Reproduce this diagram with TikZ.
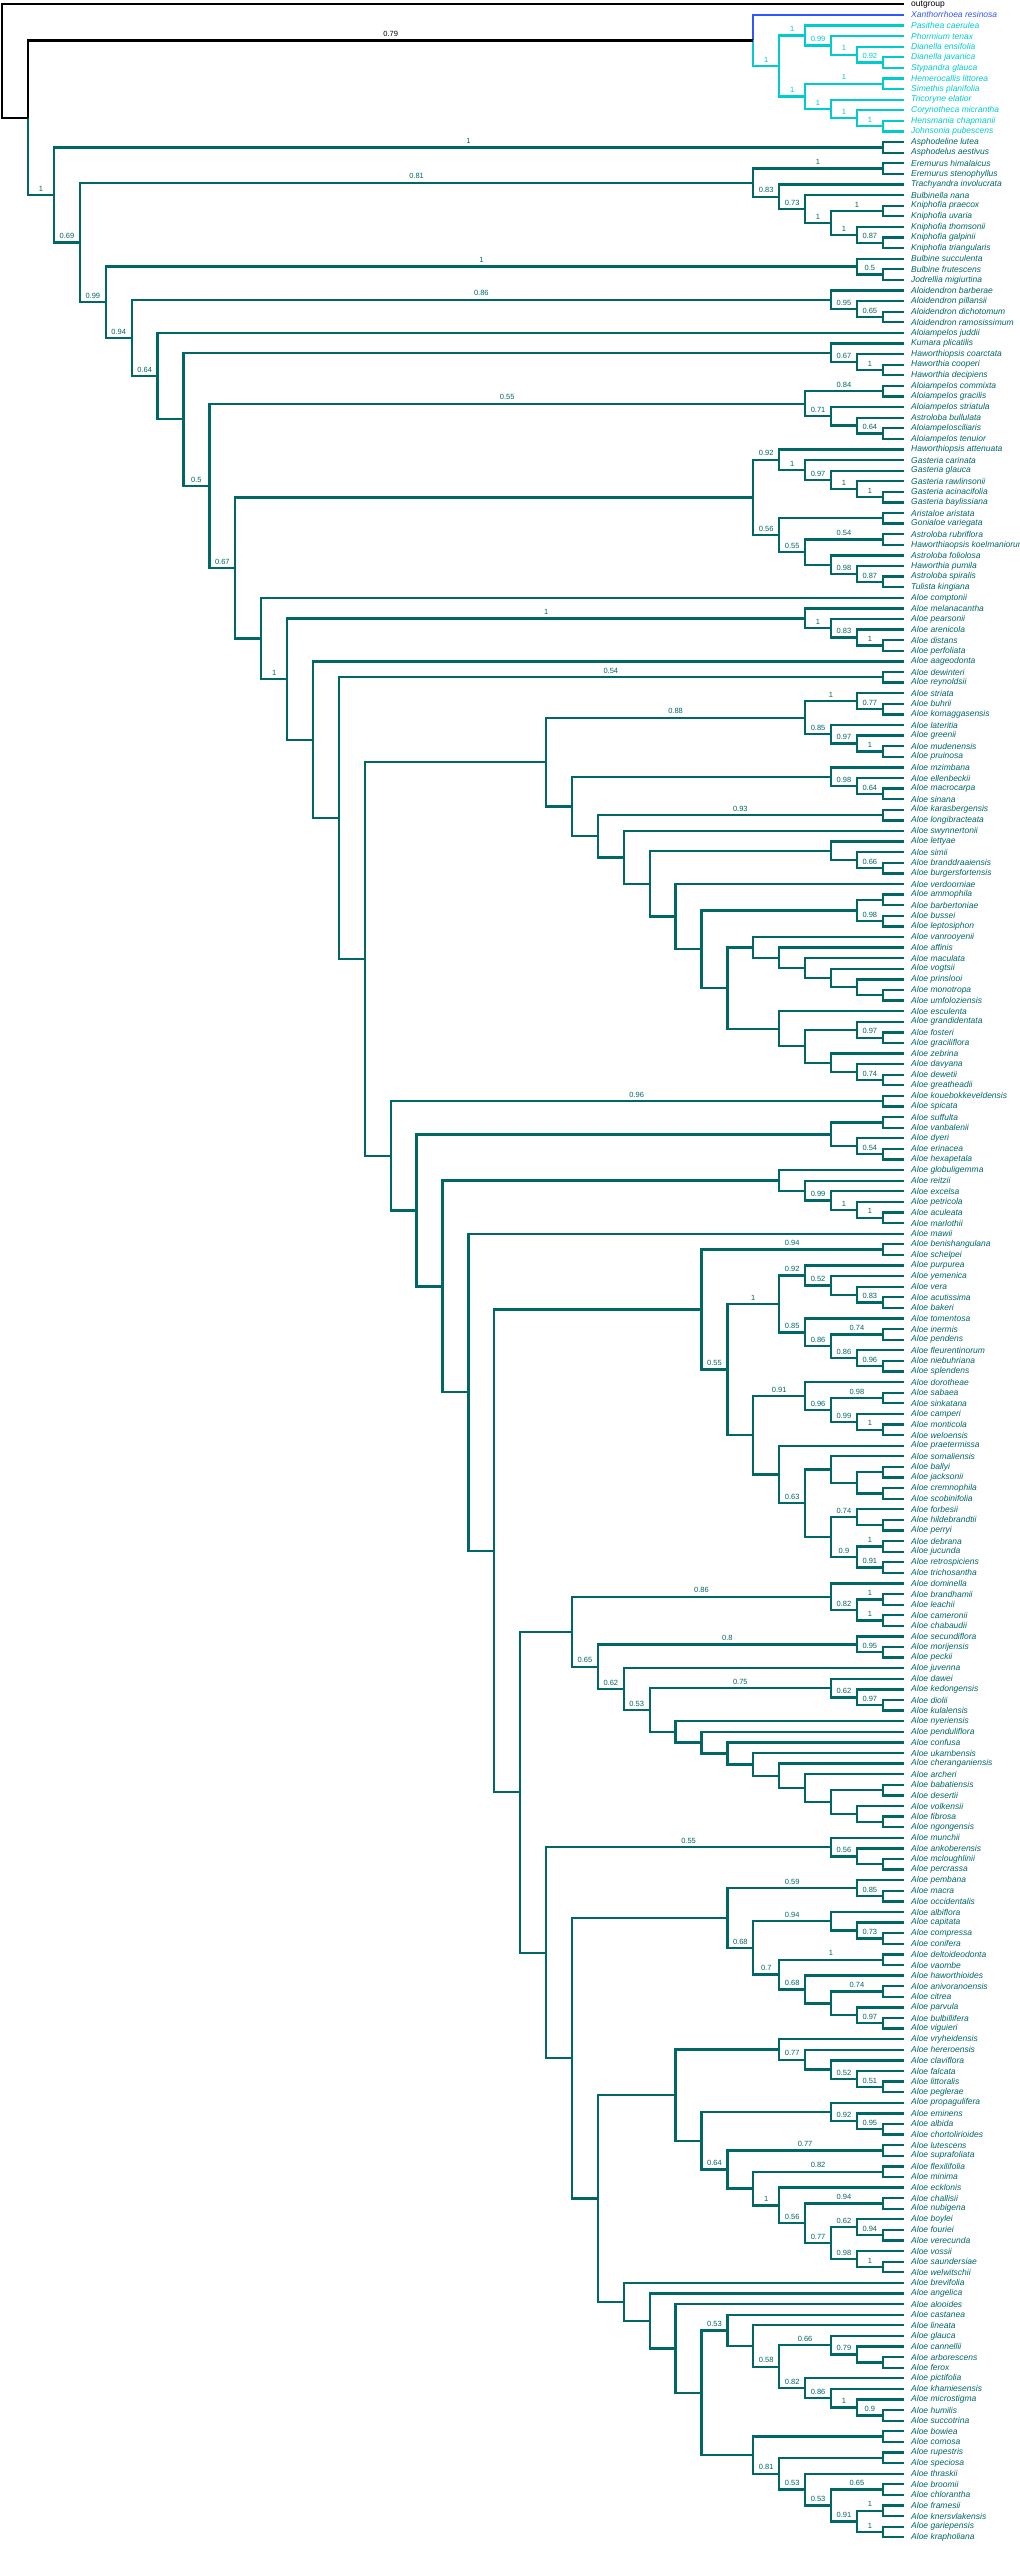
\documentclass[tikz,border=0pt]{standalone}
\usepackage{fontspec}
\setmainfont{Liberation Sans}
\definecolor{tealc}{RGB}{0,102,102}
\definecolor{cyanc}{RGB}{0,204,204}
\definecolor{bluec}{RGB}{51,85,255}
\newcount\tipcount
\newcommand\defv[2]{\expandafter\xdef\csname #1\endcsname{#2}}
\newcommand\getv[1]{\csname #1\endcsname}
\gdef\tiplist{}
\gdef\nodelist{}
\def\curcol{tealc}
\def\myXA{908.7}
\def\myXS{25.9}
\newcommand\Tip[2]{%
  \pgfmathsetmacro\mytmpy{4.33+10.598*\the\tipcount}%
  \defv{th@#1}{0}\defv{ty@#1}{\mytmpy}\defv{tc@#1}{\curcol}\defv{tl@#1}{}%
  \expandafter\gdef\csname tt@#1\endcsname{#2}%
  \global\advance\tipcount by 1\relax
  \xdef\tiplist{\unexpanded\expandafter{\tiplist}\noexpand\dotip{#1}}}
\newcommand\T[1]{\edef\mytname{t\the\tipcount}\expandafter\Tip\expandafter{\mytname}{#1}}
\newcommand\Node[4]{%
  \pgfmathtruncatemacro\mytmph{1+max(\getv{th@#2},\getv{th@#3})}%
  \pgfmathsetmacro\mytmpy{(\getv{ty@#2}+\getv{ty@#3})/2}%
  \defv{th@#1}{\mytmph}\defv{ty@#1}{\mytmpy}\defv{tc@#1}{\curcol}\defv{tl@#1}{#4}%
  \xdef\nodelist{\unexpanded\expandafter{\nodelist}\noexpand\donode{#1}{#2}{#3}}}
\newcommand\donode[3]{%
  \pgfmathsetmacro\mypx{\myXA-\myXS*\getv{th@#1}}%
  \edef\mypy{\getv{ty@#1}}%
  \doedge{#2}\doedge{#3}}
\newcommand\doedge[1]{%
  \edef\mycy{\getv{ty@#1}}%
  \ifnum\getv{th@#1}=0\relax \def\mycx{904}\else \pgfmathsetmacro\mycx{\myXA-\myXS*\getv{th@#1}}\fi
  \edef\myccol{\getv{tc@#1}}%
  \draw[br,draw=\myccol] (\mypx,\mypy) -- (\mypx,\mycy) -- (\mycx,\mycy);
  \edef\myclab{\getv{tl@#1}}%
  \ifx\myclab\empty\else
    \node[sup,text=\myccol] at ({(\mypx+\mycx)/2},{\mycy-6.4}) {\myclab};
  \fi}
\newcommand\dotip[1]{%
  \edef\myccol{\getv{tc@#1}}%
  \node[tiplab,text=\myccol] at (911,\getv{ty@#1}) {\getv{tt@#1}};}
\begin{document}
\begin{tikzpicture}[x=1pt,y=-1pt,
  br/.style={line width=2.3pt},
  sup/.style={inner sep=0pt,font=\fontsize{7.5}{9}\selectfont},
  tiplab/.style={anchor=west,inner sep=0pt,font=\fontsize{8.5}{10}\selectfont\itshape}]
\useasboundingbox[fill=white] (0,0) rectangle (1020,2557);
% ---------- tips ----------
\def\curcol{black}\T{\upshape outgroup}
\def\curcol{bluec}\T{Xanthorrhoea resinosa}
\def\curcol{cyanc}
\T{Pasithea caerulea}\T{Phormium tenax}\T{Dianella ensifolia}\T{Dianella javanica}
\T{Stypandra glauca}\T{Hemerocallis littorea}\T{Simethis planifolia}\T{Tricoryne elatior}
\T{Corynotheca micrantha}\T{Hensmania chapmanii}\T{Johnsonia pubescens}
\def\curcol{tealc}
\T{Asphodeline lutea}\T{Asphodelus aestivus}\T{Eremurus himalaicus}\T{Eremurus stenophyllus}
\T{Trachyandra involucrata}\T{Bulbinella nana}\T{Kniphofia praecox}\T{Kniphofia uvaria}
\T{Kniphofia thomsonii}\T{Kniphofia galpinii}\T{Kniphofia triangularis}\T{Bulbine succulenta}
\T{Bulbine frutescens}\T{Jodrellia migiurtina}\T{Aloidendron barberae}\T{Aloidendron pillansii}
\T{Aloidendron dichotomum}\T{Aloidendron ramosissimum}\T{Aloiampelos juddii}\T{Kumara plicatilis}
\T{Haworthiopsis coarctata}\T{Haworthia cooperi}\T{Haworthia decipiens}\T{Aloiampelos commixta}
\T{Aloiampelos gracilis}\T{Aloiampelos striatula}\T{Astroloba bullulata}\T{Aloiampelosciliaris}
\T{Aloiampelos tenuior}\T{Haworthiopsis attenuata}\T{Gasteria carinata}\T{Gasteria glauca}
\T{Gasteria rawlinsonii}\T{Gasteria acinacifolia}\T{Gasteria baylissiana}\T{Aristaloe aristata}
\T{Gonialoe variegata}\T{Astroloba rubriflora}\T{Haworthiaopsis koelmaniorum}\T{Astroloba foliolosa}
\T{Haworthia pumila}\T{Astroloba spiralis}\T{Tulista kingiana}\T{Aloe comptonii}
\T{Aloe melanacantha}\T{Aloe pearsonii}\T{Aloe arenicola}\T{Aloe distans}
\T{Aloe perfoliata}\T{Aloe aageodonta}\T{Aloe dewinteri}\T{Aloe reynoldsii}
\T{Aloe striata}\T{Aloe buhrii}\T{Aloe komaggasensis}\T{Aloe lateritia}
\T{Aloe greenii}\T{Aloe mudenensis}\T{Aloe pruinosa}\T{Aloe mzimbana}
\T{Aloe ellenbeckii}\T{Aloe macrocarpa}\T{Aloe sinana}\T{Aloe karasbergensis}
\T{Aloe longibracteata}\T{Aloe swynnertonii}\T{Aloe lettyae}\T{Aloe simii}
\T{Aloe branddraaiensis}\T{Aloe burgersfortensis}\T{Aloe verdoorniae}\T{Aloe ammophila}
\T{Aloe barbertoniae}\T{Aloe bussei}\T{Aloe leptosiphon}\T{Aloe vanrooyenii}
\T{Aloe affinis}\T{Aloe maculata}\T{Aloe vogtsii}\T{Aloe prinslooi}
\T{Aloe monotropa}\T{Aloe umfoloziensis}\T{Aloe esculenta}\T{Aloe grandidentata}
\T{Aloe fosteri}\T{Aloe graciliflora}\T{Aloe zebrina}\T{Aloe davyana}
\T{Aloe dewetii}\T{Aloe greatheadii}\T{Aloe kouebokkeveldensis}\T{Aloe spicata}
\T{Aloe suffulta}\T{Aloe vanbalenii}\T{Aloe dyeri}\T{Aloe erinacea}
\T{Aloe hexapetala}\T{Aloe globuligemma}\T{Aloe reitzii}\T{Aloe excelsa}
\T{Aloe petricola}\T{Aloe aculeata}\T{Aloe marlothii}\T{Aloe mawii}
\T{Aloe benishangulana}\T{Aloe schelpei}\T{Aloe purpurea}\T{Aloe yemenica}
\T{Aloe vera}\T{Aloe acutissima}\T{Aloe bakeri}\T{Aloe tomentosa}
\T{Aloe inermis}\T{Aloe pendens}\T{Aloe fleurentinorum}\T{Aloe niebuhriana}
\T{Aloe splendens}\T{Aloe dorotheae}\T{Aloe sabaea}\T{Aloe sinkatana}
\T{Aloe camperi}\T{Aloe monticola}\T{Aloe weloensis}\T{Aloe praetermissa}
\T{Aloe somaliensis}\T{Aloe ballyi}\T{Aloe jacksonii}\T{Aloe cremnophila}
\T{Aloe scobinifolia}\T{Aloe forbesii}\T{Aloe hildebrandtii}\T{Aloe perryi}
\T{Aloe debrana}\T{Aloe jucunda}\T{Aloe retrospiciens}\T{Aloe trichosantha}
\T{Aloe dominella}\T{Aloe brandhamii}\T{Aloe leachii}\T{Aloe cameronii}
\T{Aloe chabaudii}\T{Aloe secundiflora}\T{Aloe morijensis}\T{Aloe peckii}
\T{Aloe juvenna}\T{Aloe dawei}\T{Aloe kedongensis}\T{Aloe diolii}
\T{Aloe kulalensis}\T{Aloe nyeriensis}\T{Aloe penduliflora}\T{Aloe confusa}
\T{Aloe ukambensis}\T{Aloe cheranganiensis}\T{Aloe archeri}\T{Aloe babatiensis}
\T{Aloe desertii}\T{Aloe volkensii}\T{Aloe fibrosa}\T{Aloe ngongensis}
\T{Aloe munchii}\T{Aloe ankoberensis}\T{Aloe mcloughlinii}\T{Aloe percrassa}
\T{Aloe pembana}\T{Aloe macra}\T{Aloe occidentalis}\T{Aloe albiflora}
\T{Aloe capitata}\T{Aloe compressa}\T{Aloe conifera}\T{Aloe deltoideodonta}
\T{Aloe vaombe}\T{Aloe haworthioides}\T{Aloe anivoranoensis}\T{Aloe citrea}
\T{Aloe parvula}\T{Aloe bulbillifera}\T{Aloe viguieri}\T{Aloe vryheidensis}
\T{Aloe hereroensis}\T{Aloe claviflora}\T{Aloe falcata}\T{Aloe littoralis}
\T{Aloe peglerae}\T{Aloe propagulifera}\T{Aloe eminens}\T{Aloe albida}
\T{Aloe chortolirioides}\T{Aloe lutescens}\T{Aloe suprafoliata}\T{Aloe flexilifolia}
\T{Aloe minima}\T{Aloe ecklonis}\T{Aloe challisii}\T{Aloe nubigena}
\T{Aloe boylei}\T{Aloe fouriei}\T{Aloe verecunda}\T{Aloe vossii}
\T{Aloe saundersiae}\T{Aloe welwitschii}\T{Aloe brevifolia}\T{Aloe angelica}
\T{Aloe alooides}\T{Aloe castanea}\T{Aloe lineata}\T{Aloe glauca}
\T{Aloe cannellii}\T{Aloe arborescens}\T{Aloe ferox}\T{Aloe pictifolia}
\T{Aloe khamiesensis}\T{Aloe microstigma}\T{Aloe humilis}\T{Aloe succotrina}
\T{Aloe bowiea}\T{Aloe comosa}\T{Aloe rupestris}\T{Aloe speciosa}
\T{Aloe thraskii}\T{Aloe broomii}\T{Aloe chlorantha}\T{Aloe framesii}
\T{Aloe knersvlakensis}\T{Aloe gariepensis}\T{Aloe krapholiana}
% ---------- internal nodes ----------
\def\curcol{cyanc}
\Node{x1}{t5}{t6}{0.92}\Node{x2}{t4}{x1}{1}\Node{x3}{t3}{x2}{0.99}\Node{x4}{t2}{x3}{1}
\Node{h1}{t7}{t8}{1}\Node{h2}{t11}{t12}{1}\Node{h3}{t10}{h2}{1}\Node{h4}{t9}{h3}{1}
\Node{h5}{h1}{h4}{1}\Node{xh}{x4}{h5}{1}
\def\curcol{black}\Node{xan}{t1}{xh}{0.79}
\def\curcol{tealc}
\Node{a1}{t13}{t14}{1}
\Node{e1}{t15}{t16}{1}\Node{k1}{t22}{t23}{0.87}\Node{k2}{t21}{k1}{1}\Node{k3}{t19}{t20}{1}
\Node{k4}{k3}{k2}{1}\Node{k5}{t18}{k4}{0.73}\Node{k6}{t17}{k5}{0.83}\Node{e2}{e1}{k6}{0.81}
\Node{b1}{t25}{t26}{0.5}\Node{b2}{t24}{b1}{1}
\Node{d1}{t29}{t30}{0.65}\Node{d2}{t28}{d1}{0.95}\Node{d3}{t27}{d2}{0.86}
\Node{ku1}{t34}{t35}{1}\Node{ku2}{t33}{ku1}{0.67}\Node{ku3}{t32}{ku2}{}
\Node{ac1}{t36}{t37}{0.84}\Node{ac2}{t40}{t41}{0.64}\Node{ac3}{t39}{ac2}{}
\Node{ac4}{t38}{ac3}{0.71}\Node{ac5}{ac1}{ac4}{0.55}
\Node{g1}{t46}{t47}{1}\Node{g2}{t45}{g1}{1}\Node{g3}{t44}{g2}{0.97}\Node{g4}{t43}{g3}{1}
\Node{g5}{t42}{g4}{0.92}\Node{g6}{t48}{t49}{}\Node{g7}{t50}{t51}{0.54}\Node{g8}{t54}{t55}{0.87}
\Node{g9}{t53}{g8}{0.98}\Node{g10}{t52}{g9}{}\Node{g11}{g7}{g10}{0.55}\Node{g12}{g6}{g11}{0.56}
\Node{g13}{g5}{g12}{}
\Node{m1}{t60}{t61}{1}\Node{m2}{t59}{m1}{0.83}\Node{m3}{t58}{m2}{1}\Node{m4}{t57}{m3}{1}
\Node{p1}{t63}{t64}{0.54}
\Node{s1}{t66}{t67}{0.77}\Node{s2}{t65}{s1}{1}\Node{s3}{t70}{t71}{1}\Node{s4}{t69}{s3}{0.97}
\Node{s5}{t68}{s4}{0.85}\Node{s6}{s2}{s5}{0.88}
\Node{z1}{t74}{t75}{0.64}\Node{z2}{t73}{z1}{0.98}\Node{z3}{t72}{z2}{}
\Node{kb}{t76}{t77}{0.93}
\Node{l1}{t81}{t82}{0.66}\Node{l2}{t80}{l1}{}\Node{l3}{t79}{l2}{}
\Node{am1}{t84}{t85}{}\Node{am2}{t86}{t87}{0.98}\Node{am3}{am1}{am2}{}
\Node{v1}{t93}{t94}{}\Node{v2}{t92}{v1}{}\Node{v3}{t91}{v2}{}\Node{v4}{t90}{v3}{}
\Node{v5}{t89}{v4}{}\Node{v6}{t88}{v5}{}
\Node{es1}{t97}{t98}{0.97}\Node{es2}{t96}{es1}{}\Node{es3}{t101}{t102}{0.74}\Node{es4}{t100}{es3}{}
\Node{es5}{t99}{es4}{}\Node{es6}{es2}{es5}{}\Node{es7}{t95}{es6}{}
\Node{x7}{v6}{es7}{}\Node{x8}{am3}{x7}{}
\Node{b9}{t83}{x8}{}\Node{b10}{l3}{b9}{}\Node{b11}{t78}{b10}{}\Node{b12}{kb}{b11}{}
\Node{b13}{z3}{b12}{}\Node{b14}{s6}{b13}{}
\Node{c1}{t103}{t104}{0.96}
\Node{su1}{t105}{t106}{}\Node{su2}{t108}{t109}{0.54}\Node{su3}{t107}{su2}{}\Node{su4}{su1}{su3}{}
\Node{gl1}{t114}{t115}{1}\Node{gl2}{t113}{gl1}{1}\Node{gl3}{t112}{gl2}{0.99}\Node{gl4}{t111}{gl3}{}
\Node{gl5}{t110}{gl4}{}
\Node{pb}{t117}{t118}{0.94}
\Node{pu1}{t122}{t123}{0.83}\Node{pu2}{t121}{pu1}{}\Node{pu3}{t120}{pu2}{0.52}\Node{pu4}{t119}{pu3}{0.92}
\Node{pt1}{t128}{t129}{0.96}\Node{pt2}{t127}{pt1}{0.86}\Node{pt3}{t125}{t126}{0.74}
\Node{pt4}{pt3}{pt2}{0.86}\Node{pt5}{t124}{pt4}{0.85}\Node{pp}{pu4}{pt5}{1}
\Node{do1}{t134}{t135}{1}\Node{do2}{t133}{do1}{0.99}\Node{do3}{t131}{t132}{0.98}
\Node{do4}{do3}{do2}{0.96}\Node{do5}{t130}{do4}{0.91}
\Node{so1}{t138}{t139}{}\Node{so2}{t140}{t141}{}\Node{so3}{so1}{so2}{}\Node{so4}{t137}{so3}{}
\Node{fo1}{t143}{t144}{}\Node{fo2}{t142}{fo1}{0.74}\Node{fo3}{t145}{t146}{1}\Node{fo4}{t147}{t148}{0.91}
\Node{fo5}{fo3}{fo4}{0.9}\Node{fo6}{fo2}{fo5}{}\Node{sf}{so4}{fo6}{0.63}\Node{pr}{t136}{sf}{}
\Node{p6}{do5}{pr}{}\Node{p7}{pp}{p6}{0.55}\Node{p8}{pb}{p7}{}
\Node{dc1}{t150}{t151}{1}\Node{dc2}{t152}{t153}{1}\Node{dc3}{dc1}{dc2}{0.82}\Node{dc4}{t149}{dc3}{0.86}
\Node{se1}{t155}{t156}{0.95}\Node{se2}{t154}{se1}{0.8}
\Node{dw1}{t160}{t161}{0.97}\Node{dw2}{t159}{dw1}{0.62}\Node{dw3}{t158}{dw2}{0.75}
\Node{pe1}{t171}{t172}{}\Node{pe2}{t170}{pe1}{}\Node{pe3}{t168}{t169}{}\Node{pe4}{pe3}{pe2}{}
\Node{pe5}{t167}{pe4}{}\Node{pe6}{t166}{pe5}{}\Node{pe7}{t165}{pe6}{}\Node{pe8}{t164}{pe7}{}
\Node{pe9}{t163}{pe8}{}
\Node{ea9}{t162}{pe9}{}\Node{ea10}{dw3}{ea9}{0.53}\Node{ea11}{t157}{ea10}{0.62}
\Node{ea12}{se2}{ea11}{0.65}\Node{ea13}{dc4}{ea12}{}
\Node{mu1}{t175}{t176}{}\Node{mu2}{t174}{mu1}{0.56}\Node{mu3}{t173}{mu2}{0.55}
\Node{pm1}{t178}{t179}{0.85}\Node{pm2}{t177}{pm1}{0.59}
\Node{al1}{t182}{t183}{0.73}\Node{al2}{t181}{al1}{}\Node{al3}{t180}{al2}{0.94}
\Node{dv1}{t184}{t185}{1}\Node{hw1}{t190}{t191}{0.97}\Node{hw2}{t189}{hw1}{}
\Node{hw3}{t187}{t188}{0.74}\Node{hw4}{hw3}{hw2}{}\Node{hw5}{t186}{hw4}{0.68}
\Node{dv2}{dv1}{hw5}{0.7}\Node{pm6}{al3}{dv2}{0.68}\Node{pm7}{pm2}{pm6}{}
\Node{vr1}{t196}{t197}{0.51}\Node{vr2}{t195}{vr1}{0.52}\Node{vr3}{t194}{vr2}{}
\Node{vr4}{t193}{vr3}{0.77}\Node{vr5}{t192}{vr4}{}
\Node{q1}{t200}{t201}{0.95}\Node{q2}{t199}{q1}{0.92}\Node{q3}{t198}{q2}{}
\Node{q4}{t202}{t203}{0.77}\Node{q5}{t204}{t205}{0.82}\Node{q6}{t207}{t208}{0.94}
\Node{q7}{t210}{t211}{0.94}\Node{q8}{t209}{q7}{0.62}\Node{q9}{t213}{t214}{1}
\Node{q10}{t212}{q9}{0.98}\Node{q11}{q8}{q10}{0.77}\Node{q12}{q6}{q11}{0.56}
\Node{q13}{t206}{q12}{1}\Node{q14}{q5}{q13}{}\Node{q15}{q4}{q14}{0.64}\Node{q16}{q3}{q15}{}
\Node{ca1}{t222}{t223}{}\Node{ca2}{t221}{ca1}{0.79}\Node{ca3}{t220}{ca2}{0.66}
\Node{ca4}{t227}{t228}{0.9}\Node{ca5}{t226}{ca4}{1}\Node{ca6}{t225}{ca5}{0.86}
\Node{ca7}{t224}{ca6}{0.82}\Node{ca8}{ca3}{ca7}{0.58}\Node{ca9}{t219}{ca8}{}\Node{ca10}{t218}{ca9}{0.53}
\Node{bo1}{t229}{t230}{}\Node{bo2}{t231}{t232}{}\Node{bo3}{t234}{t235}{0.65}
\Node{bo4}{t236}{t237}{1}\Node{bo5}{t238}{t239}{1}\Node{bo6}{bo4}{bo5}{0.91}
\Node{bo7}{bo3}{bo6}{0.53}\Node{bo8}{t233}{bo7}{0.53}\Node{bo9}{bo2}{bo8}{0.81}
\Node{bo10}{bo1}{bo9}{}\Node{cb}{ca10}{bo10}{}
% deep Aloe backbone (approximate)
\Node{lw1}{t217}{cb}{}\Node{lw2}{t216}{lw1}{}\Node{lw3}{t215}{lw2}{}
\Node{vq}{vr5}{q16}{}\Node{lw4}{vq}{lw3}{}\Node{lw6}{pm7}{lw4}{}\Node{lw7}{mu3}{lw6}{}
\Node{c15}{ea13}{lw7}{}\Node{c16}{p8}{c15}{}\Node{c17}{t116}{c16}{}\Node{c18}{gl5}{c17}{}
\Node{c19}{su4}{c18}{}\Node{c20}{c1}{c19}{}
\Node{a21}{b14}{c20}{}\Node{a22}{p1}{a21}{}\Node{a23}{t62}{a22}{}\Node{a24}{m4}{a23}{1}
\Node{aloe}{t56}{a24}{}
\Node{n26}{g13}{aloe}{0.67}\Node{n27}{ac5}{n26}{0.5}\Node{n28}{ku3}{n27}{}
\Node{n29}{t31}{n28}{0.64}\Node{n30}{d3}{n29}{0.94}\Node{n31}{b2}{n30}{0.99}
\Node{n32}{e2}{n31}{0.69}\Node{asph}{a1}{n32}{1}
\def\curcol{black}
\Node{ingr}{xan}{asph}{}\Node{root}{t0}{ingr}{}
% ---------- draw ----------
\nodelist
\tiplist
\end{tikzpicture}
\end{document}
